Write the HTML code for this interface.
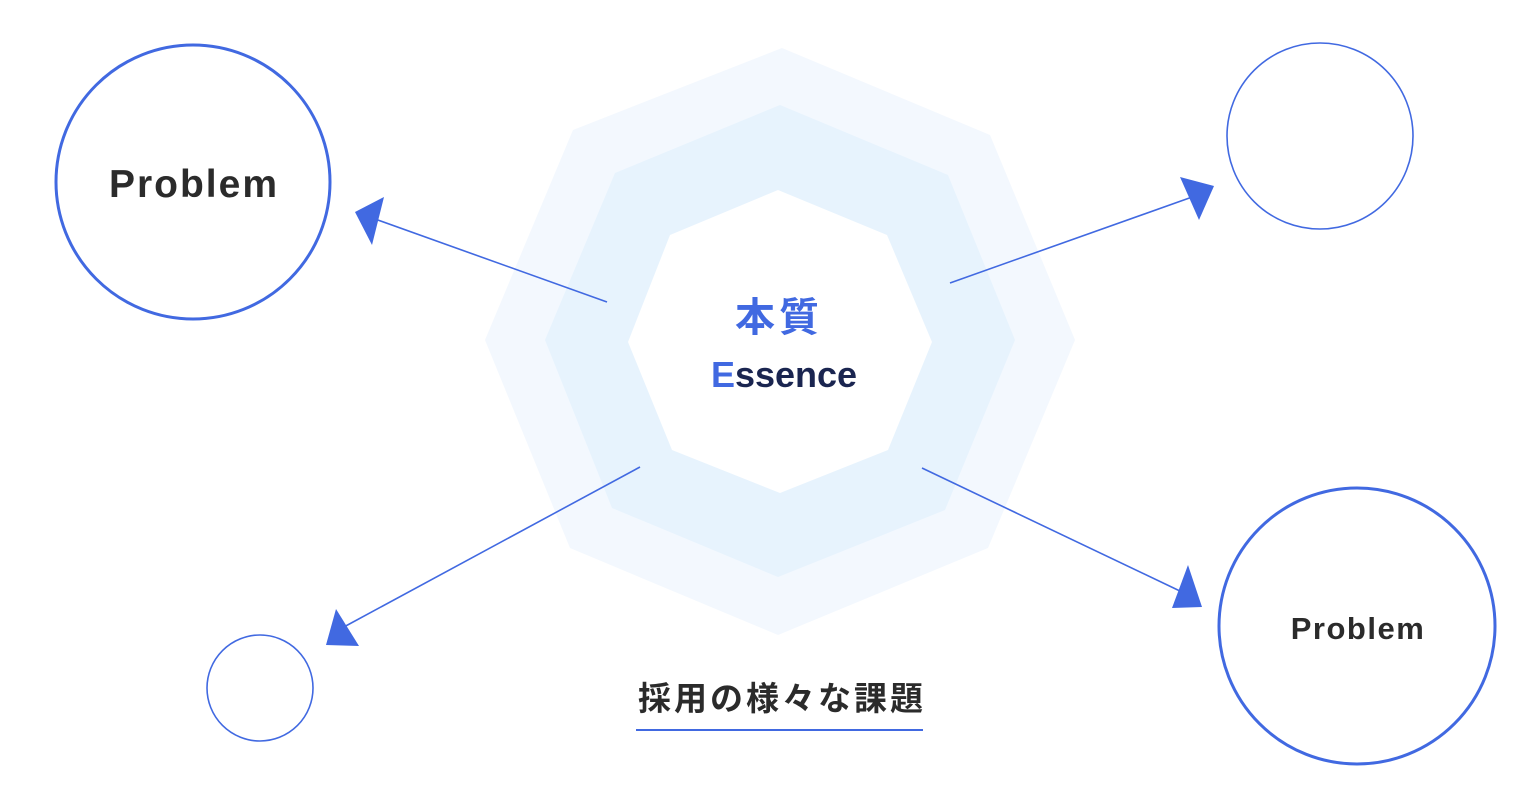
<!DOCTYPE html>
<html><head><meta charset="utf-8"><style>
html,body{margin:0;padding:0;background:#fff;}
svg{display:block}
</style></head><body>
<svg width="1536" height="800" viewBox="0 0 1536 800" xmlns="http://www.w3.org/2000/svg">
<polygon points="782,48 990,135 1075,340 988,548 778,635 570,548 485,340 573,130" fill="#f3f8fe"/>
<polygon points="780,105 948,175 1015,340 945,510 778,577 612,508 545,340 615,173" fill="#e7f3fd"/>
<polygon points="778,190 887,235 932,342 888,450 780,493 672,450 628,342 670,235" fill="#fff"/>
<g fill="none" stroke="#4169e1">
<circle cx="193" cy="182" r="137" stroke-width="3"/>
<circle cx="1320" cy="136" r="93" stroke-width="1.6"/>
<circle cx="260" cy="688" r="53" stroke-width="1.6"/>
<circle cx="1357" cy="626" r="138" stroke-width="3"/>
<line x1="607" y1="302" x2="375" y2="219" stroke-width="1.6"/>
<line x1="950" y1="283" x2="1195" y2="196" stroke-width="1.6"/>
<line x1="640" y1="467" x2="342" y2="628" stroke-width="1.6"/>
<line x1="922" y1="468" x2="1182" y2="592" stroke-width="1.6"/>
</g>
<g fill="#4169e1">
<polygon points="355,212 384,197 372,245"/>
<polygon points="1214,186 1180,177 1199,220"/>
<polygon points="326,645 359,646 336,609"/>
<polygon points="1202,607 1188,565 1172,608"/>
</g>
<g font-family="'Liberation Sans','Noto Sans CJK JP',sans-serif" font-weight="bold" text-anchor="middle">
<text x="194" y="197" font-size="39" letter-spacing="2" fill="#2b2b2b">Problem</text>
<text x="1358" y="639" font-size="31" letter-spacing="1.5" fill="#2b2b2b">Problem</text>
<text x="779" y="331" font-size="40" letter-spacing="4" fill="#4169e1">本質</text>
<text x="784" y="387" font-size="36" fill="#1a2550"><tspan fill="#4169e1">E</tspan>ssence</text>
<text x="782" y="710" font-size="33" letter-spacing="3" fill="#2b2b2b">採用の様々な課題</text>
</g>
<line x1="636" y1="730" x2="923" y2="730" stroke="#4169e1" stroke-width="2"/>
</svg>
</body></html>
